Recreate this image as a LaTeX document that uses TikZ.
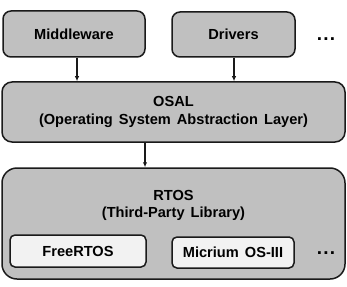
\documentclass[tikz,border=0pt]{standalone}
\usepackage{fontspec}
\setmainfont{Liberation Sans}[WordSpace=1.5]
\usetikzlibrary{arrows.meta}
\definecolor{boxgray}{HTML}{C0C0C0}
\definecolor{innergray}{HTML}{F2F2F2}
\definecolor{edge}{HTML}{1A1A1A}
\begin{document}
\begin{tikzpicture}[x=1pt,y=-1pt,
  every node/.style={font=\fontsize{14.6}{17.5}\selectfont\bfseries, inner sep=0pt, align=center},
  graybox/.style={draw=edge, line width=1.5pt, fill=boxgray},
  innerbox/.style={draw=edge, line width=1.5pt, fill=innergray, rounded corners=5pt},
  dotstyle/.style={font=\fontsize{19}{20}\selectfont\bfseries},
  arr/.style={draw=edge, line width=1.1pt, -{Latex[length=5pt,width=4.5pt]}}]
\useasboundingbox (0,0) rectangle (347,286);
% top boxes
\node[graybox, rounded corners=8pt, minimum width=142pt, minimum height=46pt] (mw) at (74,34) {Middleware};
\node[graybox, rounded corners=8pt, minimum width=123pt, minimum height=45pt] (drv) at (233.5,34.5) {Drivers};
\node[dotstyle] (dots1) at (326,39.5) {.\hspace{1.2pt}.\hspace{1.2pt}.};
% OSAL
\node[graybox, rounded corners=10pt, minimum width=343pt, minimum height=60pt] (osal) at (173.5,112)
  {OSAL\\(Operating System Abstraction Layer)};
% RTOS
\node[graybox, rounded corners=15pt, minimum width=343pt, minimum height=111pt] (rtos) at (173.5,223.5) {};
\node (rtoslbl) at (173.5,205.5) {RTOS\\(Third-Party Library)};
\node[innerbox, minimum width=136pt, minimum height=32pt] (free) at (78,251) {FreeRTOS};
\node[innerbox, minimum width=122pt, minimum height=31pt] (mic) at (233,252.5) {Micrium OS-III};
\node[dotstyle] (dots2) at (326,253) {.\hspace{1.2pt}.\hspace{1.2pt}.};
% arrows
\draw[arr] (mw.south -| 77,0) -- (osal.north -| 77,0);
\draw[arr] (drv.south -| 234,0) -- (osal.north -| 234,0);
\draw[arr] (osal.south -| 145,0) -- (rtos.north -| 145,0);
\end{tikzpicture}
\end{document}
